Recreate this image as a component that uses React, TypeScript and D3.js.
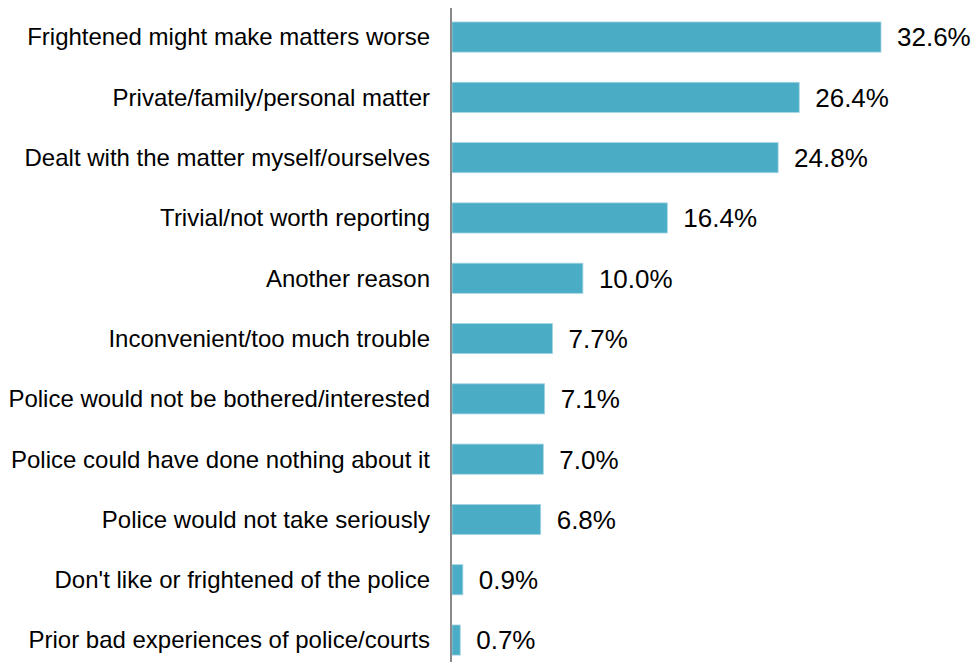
import React from "react";
import * as d3 from "d3";

const categories = [
  "Frightened might make matters worse",
  "Private/family/personal matter",
  "Dealt with the matter myself/ourselves",
  "Trivial/not worth reporting",
  "Another reason",
  "Inconvenient/too much trouble",
  "Police would not be bothered/interested",
  "Police could have done nothing about it",
  "Police would not take seriously",
  "Don't like or frightened of the police",
  "Prior bad experiences of police/courts",
];
const values = [32.6, 26.4, 24.8, 16.4, 10.0, 7.7, 7.1, 7.0, 6.8, 0.9, 0.7];
const valueLabels = ["32.6%", "26.4%", "24.8%", "16.4%", "10.0%", "7.7%", "7.1%", "7.0%", "6.8%", "0.9%", "0.7%"];

const W = 976;
const H = 662;
const axisX = 451;

export default function App() {
  const x = d3.scaleLinear().domain([0, 32.6]).range([axisX, 881]);
  const step = 60.3;
  const y = d3
    .scaleBand<string>()
    .domain(categories)
    .range([6.9, 6.9 + step * categories.length])
    .paddingInner(0.5)
    .paddingOuter(0.25);
  const bw = y.bandwidth();
  return (
    <div style={{ position: "absolute", left: 0, top: 0, width: W, height: H, background: "#fff" }}>
      <svg width={W} height={H} style={{ display: "block" }} fontFamily="'Liberation Sans', Arial, sans-serif">
        {categories.map((c, i) => {
          const yy = y(c)!;
          const cy = yy + bw / 2;
          return (
            <g key={c}>
              <rect
                x={x(0) + 1}
                y={yy}
                width={Math.max(0, x(values[i]) - x(0) - 1)}
                height={bw}
                fill="#4BACC6"
                stroke="#A5D5E3"
                strokeWidth={0.8}
              />
              <text x={430} y={cy} dy="0.35em" textAnchor="end" fontSize={24} fill="#000">
                {c}
              </text>
              <text x={x(values[i]) + 16} y={cy} dy="0.36em" textAnchor="start" fontSize={26} fill="#000">
                {valueLabels[i]}
              </text>
            </g>
          );
        })}
        <line x1={axisX} x2={axisX} y1={8} y2={H} stroke="#898989" strokeWidth={2} />
      </svg>
    </div>
  );
}
